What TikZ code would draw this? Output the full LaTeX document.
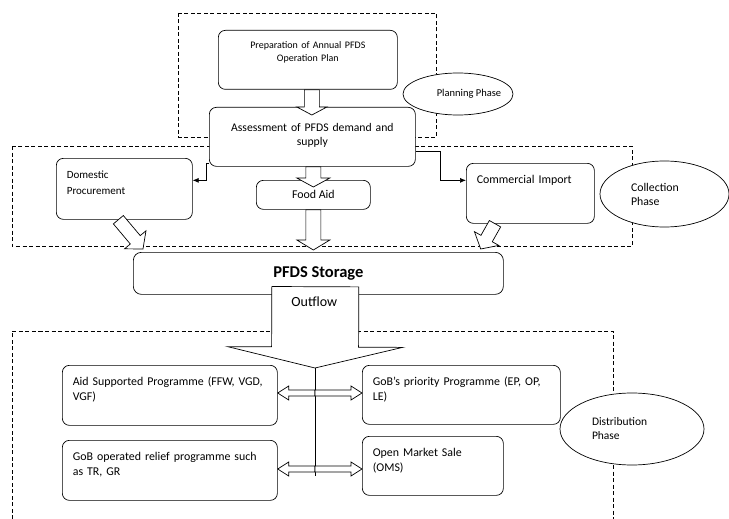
\documentclass[tikz,border=0pt]{standalone}
\usepackage{fontspec}
\setmainfont{Carlito}
\usetikzlibrary{arrows.meta,positioning,calc,shapes.geometric}

\begin{document}
\begin{tikzpicture}[
  x=1pt, y=-1pt,
  font=\fontsize{11.9}{15}\selectfont,
  line width=0.7pt,
  box/.style={draw, rounded corners=7pt, fill=white, anchor=north west, inner sep=0pt},
  tbox/.style={box, align=left, inner xsep=10.5pt, text height=20pt},
  phase/.style={draw, ellipse, fill=white, inner sep=0pt, align=left},
  zone/.style={draw, dash pattern=on 4pt off 2.5pt, line width=0.6pt},
  fat/.style n args={3}{draw, fill=white, to path={
    let \p1=(\tikztostart), \p2=(\tikztotarget),
        \n1={atan2(\y2-\y1,\x2-\x1)}, \n2={veclen(\x2-\x1,\y2-\y1)} in
    {[shift={(\p1)}, rotate=\n1]
      (0pt,-#1) -- ({\n2-#3},-#1) -- ({\n2-#3},-#2) -- ({\n2*1pt},0pt)
      -- ({\n2-#3},#2) -- ({\n2-#3},#1) -- (0pt,#1) -- cycle}}},
  elbow/.style={draw, -{Latex[length=6pt,width=5pt]}}
]
\useasboundingbox (0,0) rectangle (729,519);

% phase zones
\draw[zone] (178,13) rectangle (436,137);
\draw[zone] (12,146) rectangle (632,246);
\draw[zone] (12,519) -- (12,331) -- (613,331) -- (613,519);

% planning
\node[box, align=center, text width=167pt, inner xsep=6pt, text height=18pt, text depth=41pt,
  font=\fontsize{10}{13}\selectfont] (prep) at (218,30) {Preparation of Annual PFDS\\Operation Plan};
\node[box, align=center, text width=194pt, inner xsep=6pt, text height=24pt, text depth=35pt,
  font=\fontsize{11.7}{14}\selectfont] (assess) at (209,107) {Assessment of PFDS demand and\\supply};
\node[phase, align=center, minimum width=110pt, minimum height=42pt,
  font=\fontsize{10.5}{13}\selectfont] (planning) at (458,94) {\makebox[0pt]{\hspace*{22pt}Planning Phase}};

% collection
\node[tbox, text width=115pt, text depth=41pt, font=\fontsize{11}{16}\selectfont] (domestic) at (56,158) {Domestic\\Procurement};
\node[box, minimum width=114pt, minimum height=29pt] (foodaid) at (256,180) {Food Aid};
\node[tbox, text width=107pt, text depth=40pt] (commercial) at (466,163) {Commercial Import};
\node[phase, minimum width=129pt, minimum height=66pt, text width=67pt,
  font=\fontsize{11.8}{14}\selectfont] (collection) at (664.5,194) {Collection\\Phase};

\node[box, minimum width=370pt, minimum height=42pt, rounded corners=8pt,
  font=\bfseries\fontsize{16.5}{18}\selectfont] (storage) at (133,252) {PFDS Storage};

% distribution
\node[tbox, text width=194pt, text depth=40pt] (aid) at (62,365) {Aid Supported Programme (FFW, VGD,\\VGF)};
\node[tbox, text width=194pt, text depth=40pt] (relief) at (62,440) {GoB operated relief programme such\\as TR, GR};
\node[tbox, text width=177pt, text depth=39pt] (priority) at (362,365) {GoB’s priority Programme (EP, OP,\\LE)};
\node[tbox, text width=120pt, text depth=39pt] (oms) at (362,436) {Open Market Sale\\(OMS)};
\node[phase, minimum width=144pt, minimum height=72pt, text width=80pt,
  font=\fontsize{11.5}{14}\selectfont] (distribution) at (632,429) {Distribution\\Phase};

% flows
\draw[fat={7.5pt}{15pt}{8pt}] ($(prep.south)+(4,0)$) to ($(prep.south |- assess.north)+(4,8)$);
\draw[fat={7.5pt}{16.5pt}{9pt}] (foodaid.north |- assess.south) to ($(foodaid.north)+(0,7)$);
\draw[fat={7.5pt}{16.5pt}{10pt}] (foodaid.south) to ($(foodaid.south |- storage.north)+(0,-2)$);
\draw[fat={6.5pt}{14pt}{12pt}] ($(domestic.south)+(-6,0)$) to ($(storage.north west)+(10,-3)$);
\draw[fat={6.5pt}{14pt}{12pt}] ($(commercial.south west)+(29,0)$) to ($(storage.north east)+(-23,-3)$);
\draw[elbow] ($(assess.south west)+(0,-3)$) -- ++(-3,0) |- ($(domestic.east)+(0,-8.5)$);
\draw[elbow] ($(assess.north east)+(0,44)$) -- ++(25,0) |- ($(commercial.west)+(0,-13)$);

\coordinate (hub) at (315,368);
\coordinate (low) at (315,476);
\coordinate (a1) at (315,393);
\coordinate (a2) at (315,469);
\draw (hub) -- (low);
\draw[fat={43.5pt}{87.5pt}{21pt}] ($(storage.south)+(-3,-8)$) to (hub);
\node[font=\fontsize{14}{16}\selectfont] (outflow) at ($(storage.south)+(-4,7)$) {Outflow};
\draw[fat={3pt}{7pt}{11pt}] (a1) to (aid.east |- a1);
\draw[fat={3pt}{7pt}{11pt}] (a1) to (priority.west |- a1);
\draw[fat={3pt}{7pt}{11pt}] (a2) to (relief.east |- a2);
\draw[fat={3pt}{7pt}{11pt}] (a2) to (oms.west |- a2);

\end{tikzpicture}
\end{document}
